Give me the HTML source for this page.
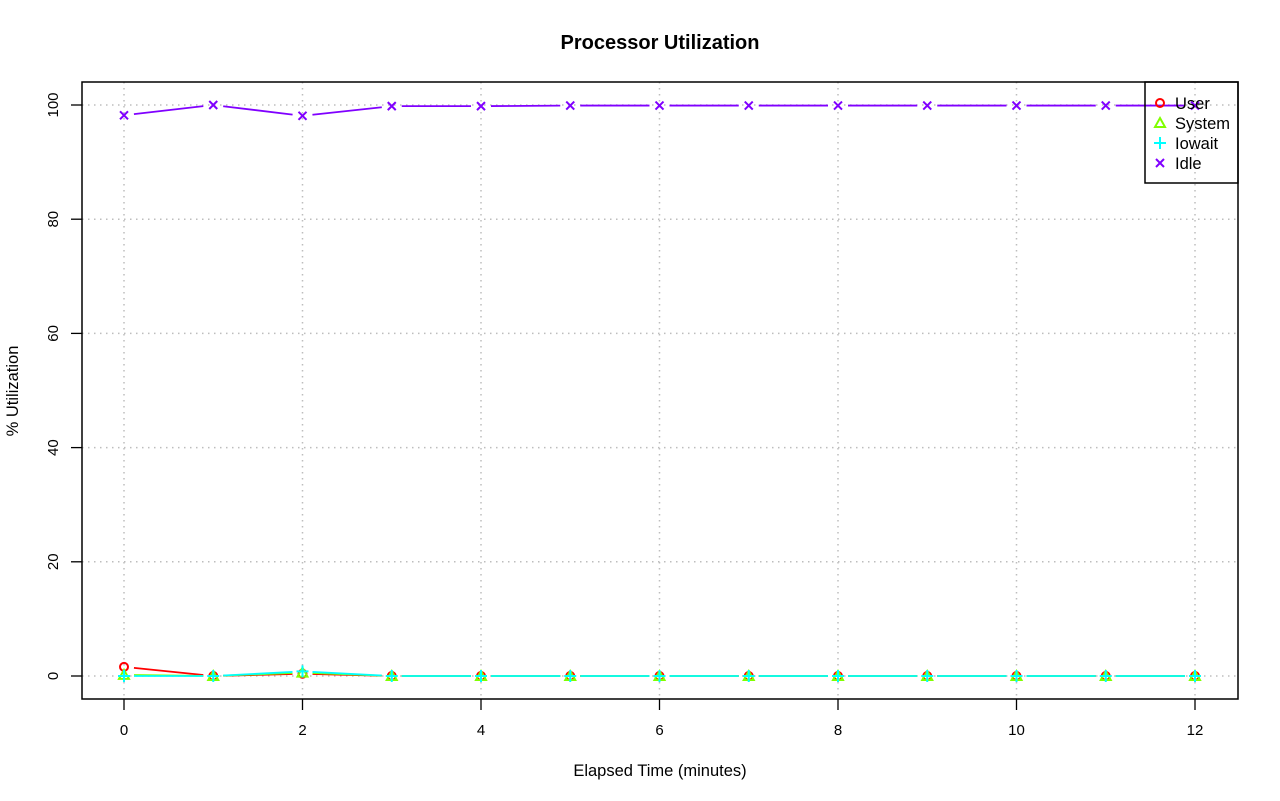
<!DOCTYPE html>
<html><head><meta charset="utf-8"><style>
html,body{margin:0;padding:0;background:#fff;}
svg{display:block;font-family:"Liberation Sans",sans-serif;}
</style></head><body>
<svg id="chart" width="1280" height="801" viewBox="0 0 1280 801">
<text x="660" y="49" text-anchor="middle" font-size="20" font-weight="bold">Processor Utilization</text>
<g id="grid"></g>
<g id="series"></g>
<rect x="82" y="82" width="1156" height="617" fill="none" stroke="#000" stroke-width="1.5"/>
<g id="axes"></g>
<text x="660" y="776" text-anchor="middle" font-size="16.5">Elapsed Time (minutes)</text>
<text transform="translate(18,391) rotate(-90)" text-anchor="middle" font-size="16.5">% Utilization</text>
<g>
<rect x="1145" y="82" width="93" height="101" fill="none" stroke="#000" stroke-width="1.5"/>
<g id="legend"></g>
</g>
</svg>
<script>
const times=[0,1,2,3,4,5,6,7,8,9,10,11,12];
const userVals=[1.6,0,0.4,0,0,0,0,0,0,0,0,0,0];
const systemVals=[0.2,0,0.6,0,0,0,0,0,0,0,0,0,0];
const iowaitVals=[0,0,0.8,0,0,0,0,0,0,0,0,0,0];
const idleVals=[98.2,100,98.1,99.8,99.8,99.9,99.9,99.9,99.9,99.9,99.9,99.9,99.9];
const xTicks=[0,2,4,6,8,10,12];
const yTicks=[0,20,40,60,80,100];
const seriesNames=["User","System","Iowait","Idle"];
const seriesColors=["#ff0000","#80ff00","#00ffff","#8000ff"];
const seriesData=[userVals,systemVals,iowaitVals,idleVals];

const NS="http://www.w3.org/2000/svg";
const xs=v=>124+v*(1195-124)/12;
const ys=v=>676-v*(676-105)/100;
function mk(tag,attrs,parent){const e=document.createElementNS(NS,tag);for(const k in attrs)e.setAttribute(k,attrs[k]);parent.appendChild(e);return e;}
const grid=document.getElementById('grid'),axes=document.getElementById('axes'),ser=document.getElementById('series'),leg=document.getElementById('legend');
xTicks.forEach(t=>{
 const g=mk('line',{x1:xs(t),x2:xs(t),y1:82,y2:699,stroke:'#bdbdbd','stroke-width':1.5,'stroke-dasharray':'1.5,4.5'},grid);
 
 
 const l=mk('line',{x1:xs(t),x2:xs(t),y1:699,y2:710,stroke:'#000','stroke-width':1.3},axes);
 
 
 const tx=mk('text',{x:xs(t),y:735,'text-anchor':'middle','font-size':15},axes);tx.textContent=t;
 
 
});
yTicks.forEach(t=>{
 const g=mk('line',{x1:82,x2:1238,y1:ys(t),y2:ys(t),stroke:'#bdbdbd','stroke-width':1.5,'stroke-dasharray':'1.5,4.5'},grid);
 
 
 const l=mk('line',{x1:71,x2:82,y1:ys(t),y2:ys(t),stroke:'#000','stroke-width':1.3},axes);
 
 
 const tx=mk('text',{x:0,y:0,'text-anchor':'middle','font-size':15,transform:`translate(58,${ys(t)}) rotate(-90)`},axes);tx.textContent=t;
 
 
});
function marker(i,x,y,parent){
 const c=seriesColors[i];let m;
 if(i===0)m=mk('circle',{cx:x,cy:y,r:4,fill:'none',stroke:c,'stroke-width':2},parent);
 else if(i===1)m=mk('polygon',{points:`${x},${y-5} ${x+5},${y+4} ${x-5},${y+4}`,fill:'none',stroke:c,'stroke-width':2},parent);
 else if(i===2)m=mk('path',{d:`M${x-6},${y}H${x+6}M${x},${y-6}V${y+6}`,stroke:c,'stroke-width':2},parent);
 else m=mk('path',{d:`M${x-4},${y-4}L${x+4},${y+4}M${x-4},${y+4}L${x+4},${y-4}`,stroke:c,'stroke-width':2},parent);
 return m;
}
seriesData.forEach((vals,i)=>{
 const g=mk('g',{},ser);
 
 
 for(let k=0;k<vals.length-1;k++){
  const x1=xs(times[k]),y1=ys(vals[k]),x2=xs(times[k+1]),y2=ys(vals[k+1]);
  const dx=x2-x1,dy=y2-y1,len=Math.hypot(dx,dy),g2=10/len;
  const s=mk('line',{x1:x1+dx*g2,y1:y1+dy*g2,x2:x2-dx*g2,y2:y2-dy*g2,stroke:seriesColors[i],'stroke-width':1.8},g);
  
  
 }
 vals.forEach((v,k)=>{
  const m=marker(i,xs(times[k]),ys(v),g);
  
  
 });
});
seriesNames.forEach((n,i)=>{
 const y=103+i*20;
 const e=mk('g',{},leg);
 
 
 marker(i,1160,y,e);
 const t=mk('text',{x:1175,y:y+6,'font-size':16.5},e);t.textContent=n;
});
</script>
</body></html>
